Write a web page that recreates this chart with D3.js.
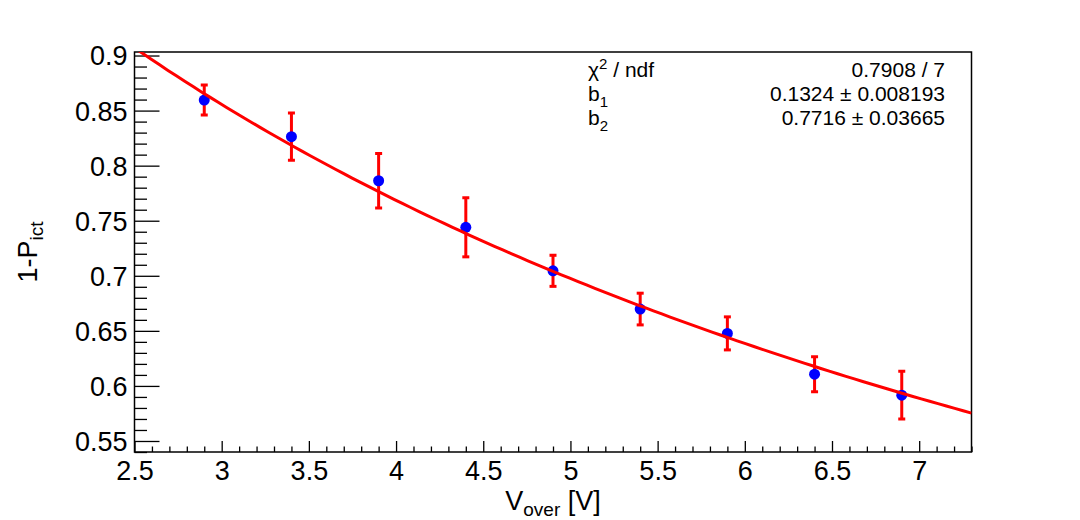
<!DOCTYPE html>
<html>
<head>
<meta charset="utf-8">
<script src="https://cdn.jsdelivr.net/npm/d3@7"></script>
<style>
  html, body { margin: 0; padding: 0; background: #ffffff; }
  svg { display: block; }
  text { font-family: "Liberation Sans", Arial, Helvetica, sans-serif; fill: #000; }
</style>
</head>
<body>
<svg id="chart" width="1080" height="520"></svg>
<script>
// ---- data ----
const voltages = [2.9, 3.4, 3.9, 4.4, 4.9, 5.4, 5.9, 6.4, 6.9];
const oneMinusPict = [0.8596, 0.8263, 0.7863, 0.7440, 0.7045, 0.6698, 0.6477, 0.6107, 0.5916];
const errors = [0.0136, 0.0215, 0.0247, 0.0268, 0.0141, 0.0144, 0.0150, 0.0159, 0.0217];

// fit parameters shown in the stats box: f(V) = 1 / (b1*V + b2)
const fitParams = [0.1324, 0.7716];
const statsLabels = ["χ2 / ndf", "b1", "b2"];
const statsValues = ["0.7908 / 7", "0.1324 ± 0.008193", "0.7716 ± 0.03665"];

const xTickValues = [2.5, 3, 3.5, 4, 4.5, 5, 5.5, 6, 6.5, 7];
const xTickLabels = ["2.5", "3", "3.5", "4", "4.5", "5", "5.5", "6", "6.5", "7"];
const yTickValues = [0.55, 0.6, 0.65, 0.7, 0.75, 0.8, 0.85, 0.9];
const yTickLabels = ["0.55", "0.6", "0.65", "0.7", "0.75", "0.8", "0.85", "0.9"];
const xDomain = [2.5, 7.3];
const yDomain = [0.540, 0.9032];

// ---- layout ----
const frame = { left: 134.5, right: 971.5, top: 52, bottom: 452 };
const svg = d3.select("#chart");

const x = d3.scaleLinear().domain(xDomain).range([frame.left, frame.right]);
const y = d3.scaleLinear().domain(yDomain).range([frame.bottom, frame.top]);

const xMinor = d3.range(25, 74).map(d => d / 10).filter(v => !xTickValues.some(t => Math.abs(t - v) < 1e-9));
const yMinor = d3.range(54, 91).map(d => d / 100).filter(v => !yTickValues.some(t => Math.abs(t - v) < 1e-9));

// clip for plot area
svg.append("defs").append("clipPath").attr("id", "clip")
  .append("rect").attr("x", frame.left).attr("y", frame.top)
  .attr("width", frame.right - frame.left).attr("height", frame.bottom - frame.top);

// axes
const fmtX = d => xTickLabels[xTickValues.indexOf(d)];
const fmtY = d => yTickLabels[yTickValues.indexOf(d)];

const gx = svg.append("g").attr("transform", `translate(0,${frame.bottom})`)
  .call(d3.axisBottom(x).tickValues(xTickValues).tickSize(-11).tickPadding(0).tickFormat(fmtX));
gx.selectAll("text").attr("font-size", 27).attr("dy", null).attr("y", 28);
const gxm = svg.append("g").attr("transform", `translate(0,${frame.bottom})`)
  .call(d3.axisBottom(x).tickValues(xMinor).tickSize(-5.5).tickFormat(""));

const gy = svg.append("g").attr("transform", `translate(${frame.left},0)`)
  .call(d3.axisLeft(y).tickValues(yTickValues).tickSize(-25).tickPadding(7).tickFormat(fmtY));
gy.selectAll("text").attr("font-size", 27).attr("dy", "0.35em");
const gym = svg.append("g").attr("transform", `translate(${frame.left},0)`)
  .call(d3.axisLeft(y).tickValues(yMinor).tickSize(-12.5).tickFormat(""));

[gx, gxm, gy, gym].forEach(g => {
  g.select(".domain").remove();
  g.selectAll("line").attr("stroke", "#000").attr("stroke-width", 1.3);
});

// frame
svg.append("rect")
  .attr("x", frame.left).attr("y", frame.top)
  .attr("width", frame.right - frame.left).attr("height", frame.bottom - frame.top)
  .attr("fill", "none").attr("stroke", "#000").attr("stroke-width", 1.5);

// data
const pts = voltages.map((v, i) => ({ v, val: oneMinusPict[i], err: errors[i] }));
const plot = svg.append("g").attr("clip-path", "url(#clip)");

// error bars
const eb = plot.append("g").attr("stroke", "#ff0000").attr("stroke-width", 3);
eb.selectAll("line.bar").data(pts).join("line").attr("class", "bar")
  .attr("x1", d => x(d.v)).attr("x2", d => x(d.v))
  .attr("y1", d => y(d.val - d.err)).attr("y2", d => y(d.val + d.err));
eb.selectAll("line.capTop").data(pts).join("line").attr("class", "capTop")
  .attr("x1", d => x(d.v) - 3.5).attr("x2", d => x(d.v) + 3.5)
  .attr("y1", d => y(d.val + d.err)).attr("y2", d => y(d.val + d.err));
eb.selectAll("line.capBot").data(pts).join("line").attr("class", "capBot")
  .attr("x1", d => x(d.v) - 3.5).attr("x2", d => x(d.v) + 3.5)
  .attr("y1", d => y(d.val - d.err)).attr("y2", d => y(d.val - d.err));

// markers
plot.append("g").selectAll("circle").data(pts).join("circle")
  .attr("cx", d => x(d.v)).attr("cy", d => y(d.val)).attr("r", 5.5)
  .attr("fill", "#0000ff");

// fit curve
const [b1, b2] = fitParams;
const fitPts = d3.range(0, 101).map(i => {
  const v = xDomain[0] + (xDomain[1] - xDomain[0]) * i / 100;
  return [v, 1 / (b1 * v + b2)];
});
plot.append("path").datum(fitPts)
  .attr("d", d3.line().x(d => x(d[0])).y(d => y(d[1])))
  .attr("fill", "none").attr("stroke", "#ff0000").attr("stroke-width", 3);

// stats text
const st = svg.append("g").attr("font-size", 21);
const rowsY = [76.5, 101, 125];
// labels with sub/superscripts
const l0 = st.append("text").attr("x", 588).attr("y", rowsY[0]);
l0.append("tspan").text("χ");
l0.append("tspan").attr("dy", -8).attr("font-size", 15).text("2");
l0.append("tspan").attr("dy", 8).text(" / ndf");
[1, 2].forEach(i => {
  const t = st.append("text").attr("x", 588).attr("y", rowsY[i]);
  t.append("tspan").text("b");
  t.append("tspan").attr("dy", 6).attr("font-size", 15).text(statsLabels[i].slice(1));
});
statsValues.forEach((s, i) => {
  st.append("text").attr("x", 945).attr("y", rowsY[i]).attr("text-anchor", "end").text(s);
});

// axis titles
const xt = svg.append("text").attr("x", (frame.left + frame.right) / 2).attr("y", 510)
  .attr("text-anchor", "middle").attr("font-size", 27);
xt.append("tspan").text("V");
xt.append("tspan").attr("dy", 6).attr("font-size", 19).text("over");
xt.append("tspan").attr("dy", -6).text(" [V]");

const yt = svg.append("text").attr("transform", `translate(37,${(frame.top + frame.bottom) / 2}) rotate(-90)`)
  .attr("text-anchor", "middle").attr("font-size", 27);
yt.append("tspan").text("1-P");
yt.append("tspan").attr("dy", 6).attr("font-size", 19).text("ict");
</script>
</body>
</html>
